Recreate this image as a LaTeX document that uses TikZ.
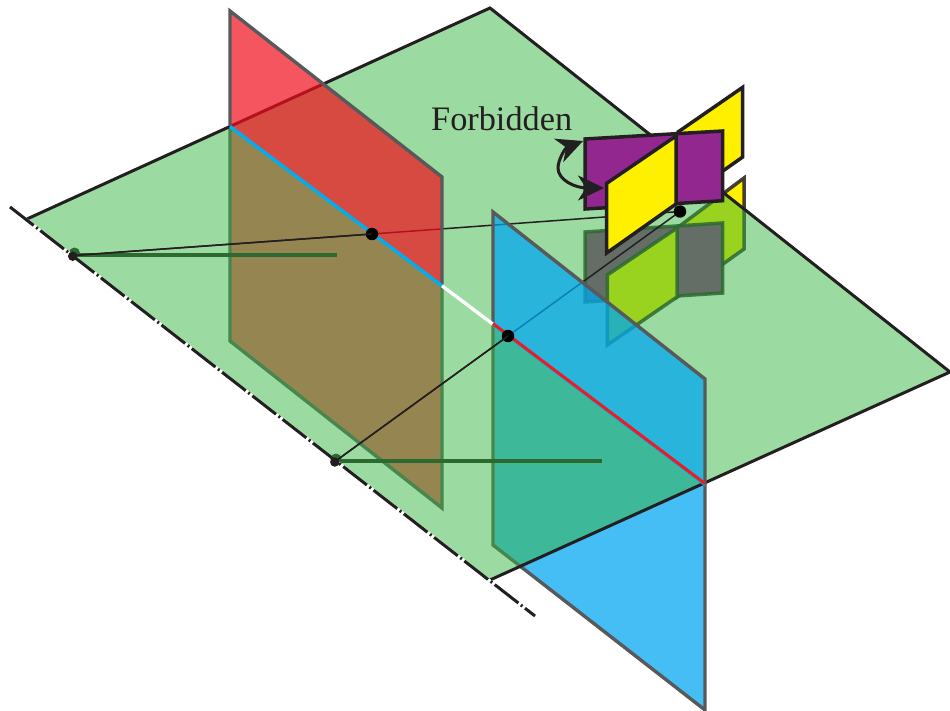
\documentclass[tikz,border=0pt]{standalone}
\usepackage{fontspec}
\setmainfont{Liberation Serif}
\usetikzlibrary{arrows.meta}
\definecolor{inkk}{RGB}{35,31,32}
\definecolor{edgegrey}{RGB}{88,89,91}
\definecolor{planeG}{RGB}{55,181,65}
\definecolor{planeR}{RGB}{241,13,27}
\definecolor{planeB}{RGB}{0,166,241}
\definecolor{figY}{RGB}{255,240,0}
\definecolor{figP}{RGB}{146,39,143}
\definecolor{hingeC}{RGB}{0,174,239}
\definecolor{hingeR}{RGB}{237,28,36}
\tikzset{
  redfill/.style={fill=planeR,fill opacity=.7,draw=none},
  bluefill/.style={fill=planeB,fill opacity=.73,draw=none},
  planeedge/.style={draw=edgegrey,line width=3.4pt,line join=miter},
  figedge/.style={draw=inkk,line width=3.5pt,line join=miter},
  lowedge/.style={draw=inkk,draw opacity=.85,line width=3.5pt,line join=miter},
  thinline/.style={draw=inkk,line width=1.5pt},
  lowline/.style={draw=inkk,line width=3.2pt},
  blackdot/.style={circle,fill=black,inner sep=0pt,minimum size=12.5pt},
  axisdot/.style={circle,fill=inkk,inner sep=0pt,minimum size=9.5pt},
  lowdot/.style={circle,fill=inkk,inner sep=0pt,minimum size=11pt},
  hinge/.style={line width=3.4pt},
  swing/.style={draw=inkk,line width=3pt,{Stealth[length=26pt,width=25pt,inset=8pt]}-{Stealth[length=26pt,width=25pt,inset=8pt]}},
}
\begin{document}
\begin{tikzpicture}[x=1pt,y=-1pt]
\useasboundingbox (0,0) rectangle (950,711);
% named points
\coordinate (ptA) at (73,255.5);
\coordinate (ptB) at (335,461.5);
\coordinate (ptC) at (372,234);
\coordinate (ptD) at (508,336);
\coordinate (ptE) at (680,211.5);
\coordinate (axisS) at (10,207);
\coordinate (axisE) at (535,616);
\coordinate (lowA) at (337,255);
\coordinate (lowB) at (602,461);
% lower halves of the planes
\fill[redfill] (230,126) -- (442,285.8) -- (442,508) -- (230,341) -- cycle;
\draw[planeedge] (230,126) -- (230,341) -- (442,508) -- (442,285.8);
\fill[bluefill] (493,324.2) -- (705,484) -- (705,710) -- (493,545) -- cycle;
\draw[planeedge] (493,324.2) -- (493,545) -- (705,710) -- (705,484);
% mirrored figure under the green plane
\draw[fill=figY,lowedge] (677,228) -- (744,178) -- (744,249) -- (677,297) -- cycle;
\draw[fill=figP,lowedge] (585,232) -- (722.7,223) -- (722.7,293) -- (585,302) -- cycle;
\draw[fill=figY,lowedge] (607.3,275) -- (677,228) -- (677,297) -- (607.3,345) -- cycle;
% lines below the green plane
\draw[lowline] (ptA |- lowA) -- (lowA);
\draw[lowline] (ptB |- lowB) -- (lowB);
\node[lowdot] (dotAlow) at (74.5,253) {};
\node[lowdot] (dotBlow) at (336,459) {};
% green plane
\fill[planeG,fill opacity=.5] (490,8) -- (950,372) -- (490,580) -- (27,219) -- cycle;
\draw[draw=inkk,line width=3pt,line join=miter] (27,219) -- (490,8) -- (950,372) -- (490,580);
% thin lines
\draw[thinline] (ptA) -- (ptC) -- (ptE);
\draw[thinline] (ptB) -- (ptD) -- (ptE);
% upper halves of the planes
\fill[redfill] (230,11) -- (442,177) -- (442,285.8) -- (230,126) -- cycle;
\draw[planeedge] (230,126) -- (230,11) -- (442,177) -- (442,285.8);
\fill[bluefill] (493,212) -- (705,379) -- (705,484) -- (493,324.2) -- cycle;
\draw[planeedge] (493,324.2) -- (493,212) -- (705,379) -- (705,484);
% hinge line
\draw[hinge,hingeC] (230,126.5) -- (442,285.8);
\draw[hinge,white] (442,285.8) -- (493,324.2);
\draw[hingeC,line width=1.8pt] (494,326) -- (705,485.4);
\draw[hingeR,line width=3pt] (493,323.6) -- (705,483.6);
% axis
\draw[white,line width=3pt] (axisS) -- (axisE);
\draw[inkk,line width=3pt,dash pattern=on 30pt off 3.2pt on 2pt off 3.2pt] (axisS) -- (axisE);
% dots
\node[axisdot] (dotA) at (72.7,256.2) {};
\node[axisdot] (dotB) at (334.8,462) {};
\node[blackdot] (dotC) at (ptC) {};
\node[blackdot] (dotD) at (ptD) {};
\node[blackdot] (dotE) at (ptE) {};
\draw[thinline] (ptA) -- (ptC);
\draw[thinline] (ptB) -- (ptD);
% upper figure
\draw[fill=figY,figedge] (678,132) -- (742.7,87.3) -- (742.7,157) -- (676,204) -- cycle;
\draw[fill=figP,figedge] (585,139) -- (722.7,131) -- (722.7,200.7) -- (585,209) -- cycle;
\draw[fill=figY,figedge] (606.7,183.3) -- (676,136) -- (676,204) -- (606.7,253) -- cycle;
% label and arrow
\node[anchor=base west,inner sep=0pt,text=inkk,font=\fontsize{34.3}{40}\selectfont] (lbl) at (431,131) {Forbidden};
\coordinate (arrA) at (583,141);
\coordinate (arrB) at (604,188);
\draw[swing] (arrA) .. controls (565,148) and (558,160) .. (558,168) .. controls (558,180) and (575,188) .. (arrB);
\end{tikzpicture}
\end{document}
